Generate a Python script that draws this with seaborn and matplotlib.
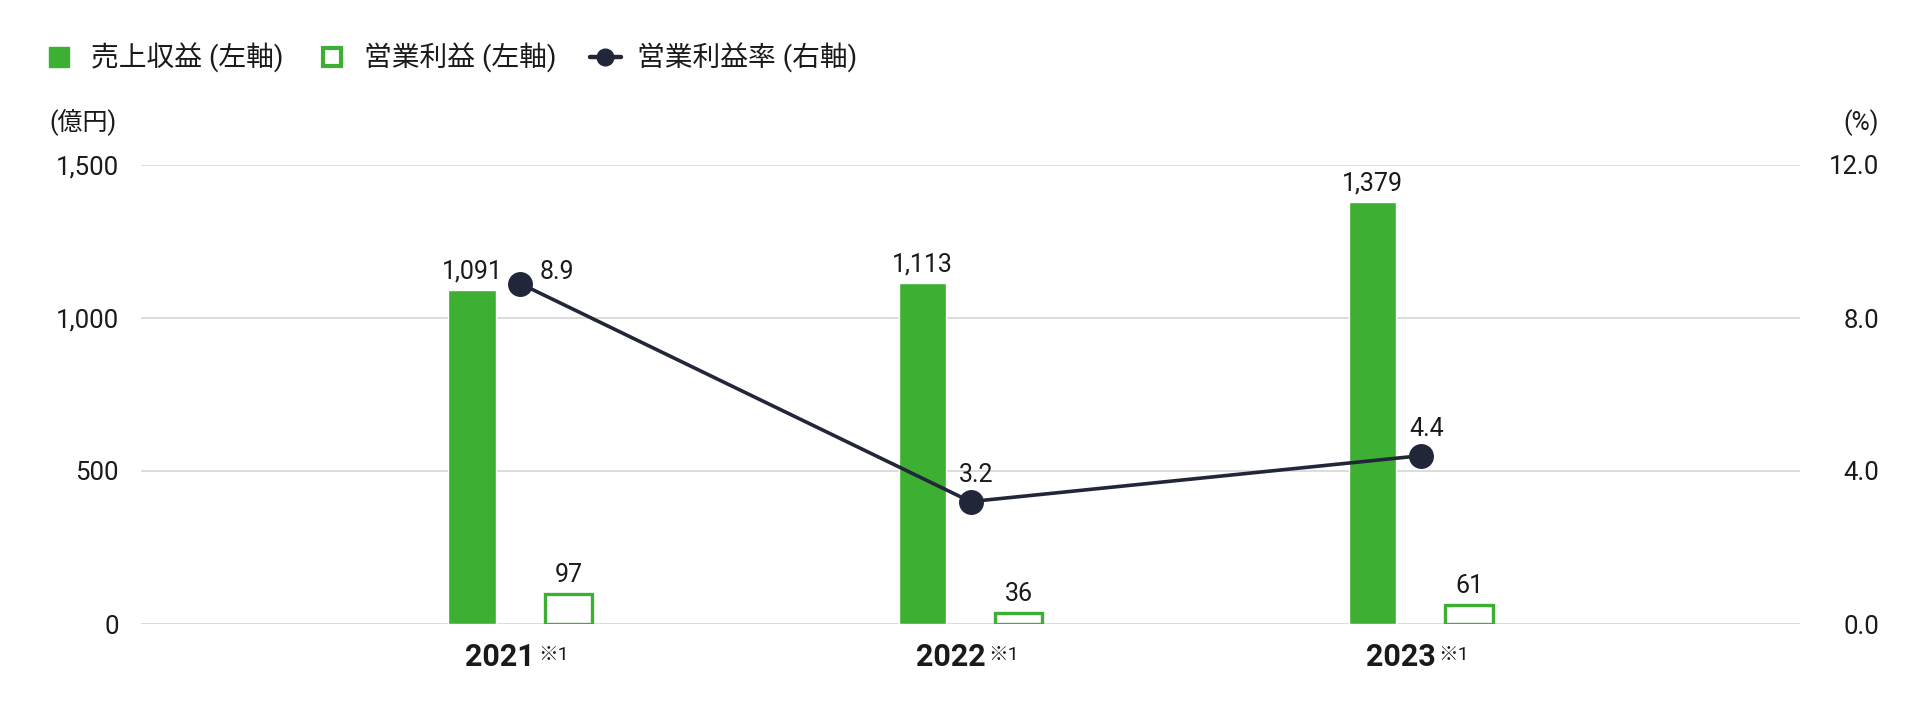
import matplotlib
matplotlib.use("Agg")
import matplotlib.pyplot as plt
from matplotlib.lines import Line2D
from matplotlib.transforms import ScaledTranslation
import seaborn as sns
import pandas as pd

# ---- data ----
years = ["2021", "2022", "2023"]
sales = [1091, 1113, 1379]
op_profit = [97, 36, 61]
op_margin = [8.9, 3.2, 4.4]
series_names = ["売上収益 (左軸)", "営業利益 (左軸)", "営業利益率 (右軸)"]
left_ticks = [0, 500, 1000, 1500]
right_ticks = [0, 4, 8, 12]
year_note = "※1"

GREEN = "#3daf33"
NAVY = "#222639"
TXT = "#1a1a1a"
GRID = "#d9d9d9"

sns.set_theme(style="white")
plt.rcParams["font.family"] = ["Roboto", "Noto Sans CJK JP", "DejaVu Sans"]
plt.rcParams["text.color"] = TXT
plt.rcParams["axes.labelcolor"] = TXT
plt.rcParams["xtick.color"] = TXT
plt.rcParams["ytick.color"] = TXT

df_bars = pd.DataFrame({
    "year": years * 2,
    "series": [series_names[0]] * 3 + [series_names[1]] * 3,
    "value": sales + op_profit,
})
df_line = pd.DataFrame({"year": years, "rate": op_margin})

fig = plt.figure(figsize=(19.2, 7.2), dpi=100)
ax = fig.add_axes([141 / 1920, 1 - 624 / 720, (1800 - 141) / 1920, (624 - 165) / 720])

sns.barplot(data=df_bars, x="year", y="value", hue="series",
            hue_order=series_names[:2], palette=[GREEN, GREEN],
            width=0.428, gap=0.51, ax=ax, legend=False, saturation=1)

# hollow style for operating profit
for p in ax.containers[1]:
    p.set_facecolor("white")
    p.set_edgecolor(GREEN)
    p.set_linewidth(2.4)

for cont in ax.containers:
    ax.bar_label(cont, fmt=lambda v: f"{v:,.0f}", padding=5, fontsize=18, color=TXT)

ax.set_ylim(0, 1500)
ax.set_yticks(left_ticks, labels=[f"{v:,}" for v in left_ticks])
ax.yaxis.grid(True, color=GRID, linewidth=1.3)
ax.set_axisbelow(True)
for s in ax.spines.values():
    s.set_visible(False)
ax.tick_params(axis="y", length=0, pad=16, labelsize=18.5)
ax.set_xlabel("")
ax.set_ylabel("")

ax2 = ax.twinx()
sns.pointplot(data=df_line, x="year", y="rate", color=NAVY, markers="o",
              markersize=16, linewidth=2.6, ax=ax2, errorbar=None)
ax2.set_ylim(0, 12)
ax2.set_yticks(right_ticks, labels=[f"{v:.1f}" for v in right_ticks])
ax2.tick_params(axis="y", length=0, pad=57, labelsize=18.5)
for lbl in ax2.get_yticklabels():
    lbl.set_horizontalalignment("right")
for s in ax2.spines.values():
    s.set_visible(False)
ax2.set_ylabel("")
ax2.set_xlabel("")
ax2.grid(False)

# rate labels
offsets = [((14, 8), "left"), ((4, 19), "center"), ((4, 19), "center")]
for i, (v, (off, ha)) in enumerate(zip(op_margin, offsets)):
    ax2.annotate(f"{v:.1f}", xy=(i, v), xytext=off, textcoords="offset points",
                 ha=ha, va="center", fontsize=18, color=TXT)

ax.set_xlim(-0.842, 2.842)
ax.set_xticks(range(len(years)), labels=years)
ax.tick_params(axis="x", length=0, pad=13, labelsize=22)
shift = ScaledTranslation(-20 / 100, 0, fig.dpi_scale_trans)
for lbl in ax.get_xticklabels():
    lbl.set_fontweight("bold")
    lbl.set_transform(lbl.get_transform() + shift)
    ax.annotate(year_note, xy=(1, 1), xycoords=lbl, xytext=(2, -3),
                textcoords="offset points", ha="left", va="top", fontsize=14,
                color=TXT, annotation_clip=False)

# axis unit labels
fig.text(49 / 1920, 1 - 122 / 720, "(億円)", ha="left", va="center", fontsize=18)
fig.text(1879 / 1920, 1 - 123 / 720, "(%)", ha="right", va="center", fontsize=18)

# legend
handles = [
    Line2D([], [], linestyle="", marker="s", markersize=15, markerfacecolor=GREEN,
           markeredgecolor=GREEN),
    Line2D([], [], linestyle="", marker="s", markersize=13, markerfacecolor="white",
           markeredgecolor=GREEN, markeredgewidth=3),
    Line2D([], [], color=NAVY, linewidth=3.2, marker="o", markersize=12),
]
fig.legend(handles, series_names, loc="center left", bbox_to_anchor=(44 / 1920, 1 - 58 / 720),
           ncol=3, frameon=False, fontsize=20, handlelength=1.1, handletextpad=0.6,
           columnspacing=1.2, borderpad=0, borderaxespad=0)

fig.savefig("out.png", dpi=100, facecolor="white")
